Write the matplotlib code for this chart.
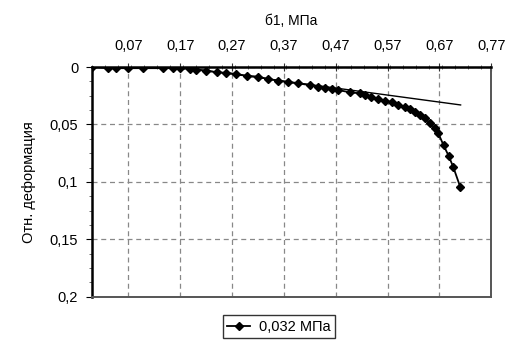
import numpy as np
import matplotlib.pyplot as plt
from matplotlib.ticker import FixedLocator, MultipleLocator

plt.rcParams['font.family'] = ['Liberation Sans', 'DejaVu Sans']

# test data: stress (MPa) vs relative strain
stress = [0.0, 0.031, 0.047, 0.070, 0.099, 0.137, 0.157, 0.169, 0.188, 0.201,
          0.220, 0.240, 0.259, 0.278, 0.298, 0.320, 0.340, 0.359, 0.378, 0.397,
          0.420, 0.436, 0.449, 0.462, 0.475, 0.497, 0.517, 0.526, 0.539, 0.552,
          0.565, 0.578, 0.591, 0.604, 0.614, 0.623, 0.633, 0.643, 0.652, 0.662,
          0.668, 0.678, 0.688, 0.697, 0.710]
strain = [0.0, 0.001, 0.001, 0.001, 0.001, 0.001, 0.001, 0.0012, 0.0017, 0.0026,
          0.0032, 0.0046, 0.0050, 0.0061, 0.0075, 0.0084, 0.0104, 0.0119, 0.0133, 0.0142,
          0.0157, 0.0171, 0.0186, 0.0190, 0.0200, 0.0220, 0.0229, 0.0243, 0.0258, 0.0278,
          0.0293, 0.0307, 0.0330, 0.0350, 0.0365, 0.0388, 0.0417, 0.0446, 0.0490, 0.0533,
          0.0577, 0.0680, 0.0774, 0.0872, 0.1040]

# linear (tangent) section
tan_x = [0.17, 0.711]
tan_y = [0.0, 0.033]

xticks = [0.07, 0.17, 0.27, 0.37, 0.47, 0.57, 0.67, 0.77]
xlabels = ['0,07', '0,17', '0,27', '0,37', '0,47', '0,57', '0,67', '0,77']
yticks = [0, 0.05, 0.1, 0.15, 0.2]
ylabels = ['0', '0,05', '0,1', '0,15', '0,2']

fig = plt.figure(figsize=(5.09, 3.42), dpi=100)
ax = fig.add_axes([0.181, 0.132, 0.784, 0.672])

ax.plot(stress, strain, '-', color='black', lw=1.3, marker='D', ms=4.3,
        label='0,032 МПа')
ax.plot(tan_x, tan_y, '-', color='black', lw=1.0)

ax.set_xlim(0, 0.77)
ax.set_ylim(0.2, 0)

ax.xaxis.tick_top()
ax.xaxis.set_label_position('top')
ax.xaxis.set_major_locator(FixedLocator(xticks))
ax.set_xticklabels(xlabels)
ax.xaxis.set_minor_locator(MultipleLocator(0.025))
ax.set_yticks(yticks)
ax.set_yticklabels(ylabels)
ax.yaxis.set_minor_locator(MultipleLocator(0.0125))

ax.set_xlabel('б1, МПа', fontsize=10, labelpad=10)
ax.set_ylabel('Отн. деформация', fontsize=10.5, labelpad=10)

ax.tick_params(axis='x', which='major', direction='inout', length=6, width=0.8,
               labelsize=10.5, pad=7, colors='#333333', labelcolor='black')
ax.tick_params(axis='x', which='minor', direction='inout', length=3, width=0.6,
               colors='#555555')
ax.tick_params(axis='y', which='major', direction='out', length=4, width=0.8,
               labelsize=10.5, pad=6)
ax.tick_params(axis='y', which='minor', direction='out', length=2, width=0.6,
               colors='#555555')

ax.grid(True, which='major', color='#888888', ls=(0, (4, 3)), lw=0.9)

for side in ['left', 'top']:
    ax.spines[side].set_linewidth(1.8)
    ax.spines[side].set_color('black')
for side in ['right', 'bottom']:
    ax.spines[side].set_linewidth(1.4)
    ax.spines[side].set_color('#555555')

leg = fig.legend(loc='center', bbox_to_anchor=(0.548, 0.045), fontsize=10.5,
                 frameon=True, fancybox=False, shadow=False, handlelength=1.6,
                 borderpad=0.3, handletextpad=0.6, borderaxespad=0)
leg.get_frame().set_edgecolor('black')
leg.get_frame().set_linewidth(1.0)

fig.savefig('out.png', dpi=100)
